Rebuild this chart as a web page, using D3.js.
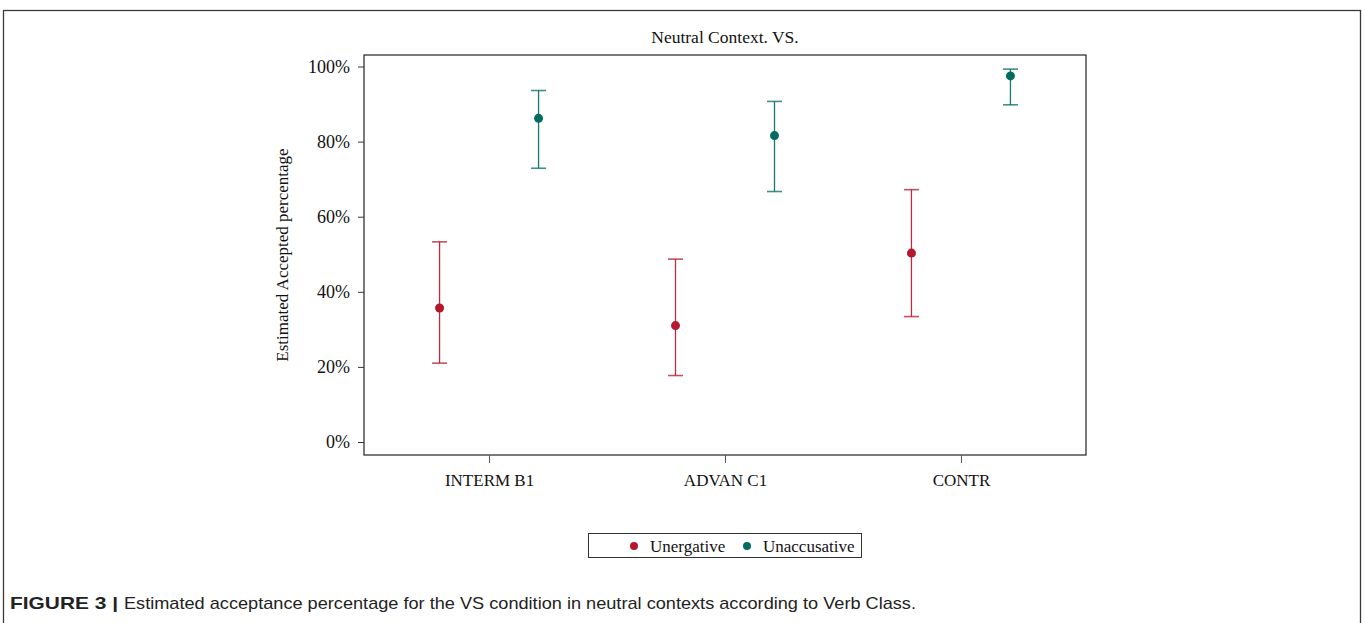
<!DOCTYPE html>
<html>
<head>
<meta charset="utf-8">
<script src="https://cdn.jsdelivr.net/npm/d3@7/dist/d3.min.js"></script>
<style>
  html, body { margin: 0; padding: 0; background: #fff; }
  svg { display: block; }
</style>
</head>
<body>
<svg id="chart"></svg>
<script>
// data (percent)
const categories = ["INTERM B1", "ADVAN C1", "CONTR"];
const seriesNames = ["Unergative", "Unaccusative"];
const unergEst   = [35.7, 31.0, 50.3];
const unergLow   = [21.0, 17.7, 33.4];
const unergHigh  = [53.3, 48.7, 67.2];
const unaccEst   = [86.2, 81.6, 97.5];
const unaccLow   = [72.9, 66.7, 89.8];
const unaccHigh  = [93.6, 90.7, 99.3];
const yTicks = [0, 20, 40, 60, 80, 100];

const colors = { Unergative: "#b3182e", Unaccusative: "#036b5f" };

const W = 1365, H = 623;
const svg = d3.select("#chart").attr("width", W).attr("height", H);

// outer figure frame
svg.append("rect").attr("x", 3.5).attr("y", 10.5).attr("width", 1357).attr("height", 640)
  .attr("fill", "none").attr("stroke", "#3a3a3a").attr("stroke-width", 1.3);

const box = { left: 364, right: 1086, top: 55, bottom: 455 };

const x = d3.scalePoint().domain(categories).range([box.left, box.right]).padding(0.53);
const xOff = d3.scalePoint().domain(seriesNames).range([-49.5, 49.5]);
const y = d3.scaleLinear().domain([0, 100]).range([442, 66.5]);

const serif = "'Liberation Serif', 'Times New Roman', serif";

// title
svg.append("text").attr("x", 725).attr("y", 43).attr("text-anchor", "middle")
  .style("font-family", serif).style("font-size", "17.5px").attr("fill", "#111")
  .text("Neutral Context. VS.");

// plot frame
svg.append("rect").attr("x", box.left).attr("y", box.top)
  .attr("width", box.right - box.left).attr("height", box.bottom - box.top)
  .attr("fill", "none").attr("stroke", "#222").attr("stroke-width", 1.2);

// y axis
const yAxis = svg.append("g").attr("transform", `translate(${box.left},0)`)
  .call(d3.axisLeft(y).tickValues(yTicks).tickFormat(d => d + "%").tickSize(6).tickPadding(8));
yAxis.select(".domain").remove();
yAxis.selectAll(".tick line").attr("stroke", "#333");
yAxis.selectAll("text").style("font-family", serif).style("font-size", "18px").attr("fill", "#111");

// x axis
const xAxis = svg.append("g").attr("transform", `translate(0,${box.bottom})`)
  .call(d3.axisBottom(x).tickSize(8).tickPadding(11));
xAxis.select(".domain").remove();
xAxis.selectAll(".tick line").attr("stroke", "#555");
xAxis.selectAll("text").style("font-family", serif).style("font-size", "17px").attr("fill", "#111");

// y axis title
svg.append("text").attr("transform", `translate(288,${(box.top + box.bottom) / 2}) rotate(-90)`)
  .attr("text-anchor", "middle").style("font-family", serif).style("font-size", "17px").attr("fill", "#111")
  .text("Estimated Accepted percentage");

// error bars + points
const rows = [];
categories.forEach((c, i) => {
  rows.push({ cat: c, s: "Unergative", est: unergEst[i], lo: unergLow[i], hi: unergHigh[i] });
  rows.push({ cat: c, s: "Unaccusative", est: unaccEst[i], lo: unaccLow[i], hi: unaccHigh[i] });
});

const g = svg.append("g");
const cap = 7.5;
rows.forEach(d => {
  const cx = x(d.cat) + xOff(d.s);
  const col = colors[d.s];
  g.append("line").attr("x1", cx).attr("x2", cx).attr("y1", y(d.lo)).attr("y2", y(d.hi))
    .attr("stroke", col).attr("stroke-width", 1.3).attr("opacity", 0.9);
  [d.lo, d.hi].forEach(v => {
    g.append("line").attr("x1", cx - cap).attr("x2", cx + cap).attr("y1", y(v)).attr("y2", y(v))
      .attr("stroke", col).attr("stroke-width", 1.6).attr("opacity", 0.75);
  });
  g.append("circle").attr("cx", cx).attr("cy", y(d.est)).attr("r", 4.5).attr("fill", col);
});

// legend
const lg = svg.append("g");
lg.append("rect").attr("x", 588.5).attr("y", 533.5).attr("width", 273).attr("height", 24)
  .attr("fill", "#fff").attr("stroke", "#333").attr("stroke-width", 1);
const legendX = { Unergative: 634, Unaccusative: 747 };
seriesNames.forEach(s => {
  lg.append("circle").attr("cx", legendX[s]).attr("cy", 546).attr("r", 4).attr("fill", colors[s]);
  lg.append("text").attr("x", legendX[s] + 16).attr("y", 551.5)
    .style("font-family", serif).style("font-size", "17px").attr("fill", "#111").text(s);
});

// caption
const sans = "'Liberation Sans', Arial, sans-serif";
svg.append("text").attr("x", 10).attr("y", 609).attr("textLength", 108).attr("lengthAdjust", "spacingAndGlyphs")
  .style("font-family", sans).style("font-size", "17px").style("font-weight", "bold").attr("fill", "#222")
  .text("FIGURE 3 |");
svg.append("text").attr("x", 124).attr("y", 609).attr("textLength", 792).attr("lengthAdjust", "spacingAndGlyphs")
  .style("font-family", sans).style("font-size", "17px").attr("fill", "#222")
  .text("Estimated acceptance percentage for the VS condition in neutral contexts according to Verb Class.");
</script>
</body>
</html>
